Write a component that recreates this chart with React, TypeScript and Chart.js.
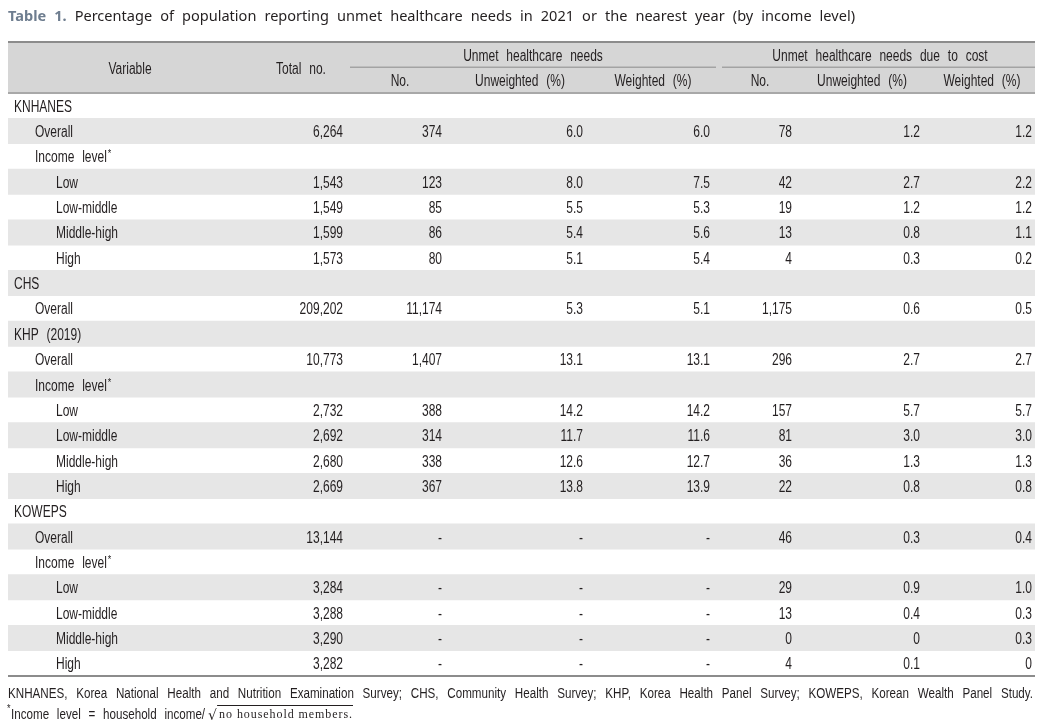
import React, { useEffect, useRef } from "react";
import { Chart, registerables } from "chart.js";

Chart.register(...registerables);

// ---------------- DATA ----------------
const rowLabels = [
  "KNHANES", "Overall", "Income level", "Low", "Low-middle", "Middle-high", "High",
  "CHS", "Overall",
  "KHP (2019)", "Overall", "Income level", "Low", "Low-middle", "Middle-high", "High",
  "KOWEPS", "Overall", "Income level", "Low", "Low-middle", "Middle-high", "High",
];
const rowLevels = [0, 1, 1, 2, 2, 2, 2, 0, 1, 0, 1, 1, 2, 2, 2, 2, 0, 1, 1, 2, 2, 2, 2];
const rowStarred = [false, false, true, false, false, false, false, false, false, false, false, true, false, false, false, false, false, false, true, false, false, false, false];

const totalNo = [null, 6264, null, 1543, 1549, 1599, 1573, null, 209202, null, 10773, null, 2732, 2692, 2680, 2669, null, 13144, null, 3284, 3288, 3290, 3282];
const unmetNo = [null, 374, null, 123, 85, 86, 80, null, 11174, null, 1407, null, 388, 314, 338, 367, null, "-", null, "-", "-", "-", "-"];
const unmetUnweighted = [null, 6.0, null, 8.0, 5.5, 5.4, 5.1, null, 5.3, null, 13.1, null, 14.2, 11.7, 12.6, 13.8, null, "-", null, "-", "-", "-", "-"];
const unmetWeighted = [null, 6.0, null, 7.5, 5.3, 5.6, 5.4, null, 5.1, null, 13.1, null, 14.2, 11.6, 12.7, 13.9, null, "-", null, "-", "-", "-", "-"];
const costNo = [null, 78, null, 42, 19, 13, 4, null, 1175, null, 296, null, 157, 81, 36, 22, null, 46, null, 29, 13, 0, 4];
const costUnweighted = [null, 1.2, null, 2.7, 1.2, 0.8, 0.3, null, 0.6, null, 2.7, null, 5.7, 3.0, 1.3, 0.8, null, 0.3, null, 0.9, 0.4, 0, 0.1];
const costWeighted = [null, 1.2, null, 2.2, 1.2, 1.1, 0.2, null, 0.5, null, 2.7, null, 5.7, 3.0, 1.3, 0.8, null, 0.4, null, 1.0, 0.3, 0.3, 0];

const titleLead = "Table 1.";
const titleText = "Percentage of population reporting unmet healthcare needs in 2021 or the nearest year (by income level)";
const groupHeaders = ["Unmet healthcare needs", "Unmet healthcare needs due to cost"];
const subHeaders = ["No.", "Unweighted (%)", "Weighted (%)"];
const footnote1 = "KNHANES, Korea National Health and Nutrition Examination Survey; CHS, Community Health Survey; KHP, Korea Health Panel Survey; KOWEPS, Korean Wealth Panel Study.";
const footnote2 = "Income level = household income/";
const footnote2Root = "no household members.";

// ---------------- STYLE ----------------
const W = 1043;
const H = 728;
const TL = 8; // table left
const TR = 1035; // table right
const TABLE_W = TR - TL;
const INK = "#231f20";
const BODY_FONT = '16px "Liberation Sans", Arial, sans-serif';
const FOOT_FONT = '15.5px "Liberation Sans", Arial, sans-serif';
const SX = 0.75;
const GAP_EXTRA = 4.5;

type Word = { t: string; font: string; color: string; sx: number };

function wWidth(ctx: CanvasRenderingContext2D, w: Word) {
  ctx.font = w.font;
  return ctx.measureText(w.t).width * w.sx;
}
function drawWord(ctx: CanvasRenderingContext2D, w: Word, x: number, y: number) {
  ctx.save();
  ctx.font = w.font;
  ctx.fillStyle = w.color;
  ctx.textAlign = "left";
  ctx.textBaseline = "alphabetic";
  ctx.translate(x, y);
  ctx.scale(w.sx, 1);
  ctx.fillText(w.t, 0, 0);
  ctx.restore();
}
function drawText(
  ctx: CanvasRenderingContext2D,
  s: string,
  x: number,
  y: number,
  align: "left" | "right" | "center",
  font = BODY_FONT,
  sx = SX,
  color = INK
) {
  const words = s.split(" ").map((t) => ({ t, font, color, sx }));
  ctx.font = font;
  const sp = ctx.measureText(" ").width * sx + GAP_EXTRA;
  const widths = words.map((w) => wWidth(ctx, w));
  const total = widths.reduce((a, b) => a + b, 0) + sp * (words.length - 1);
  let cx = align === "left" ? x : align === "right" ? x - total : x - total / 2;
  words.forEach((w, i) => {
    drawWord(ctx, w, cx, y);
    cx += widths[i] + sp;
  });
  return total;
}
function drawJustified(ctx: CanvasRenderingContext2D, words: Word[], x0: number, x1: number, y: number) {
  const widths = words.map((w) => wWidth(ctx, w));
  const total = widths.reduce((a, b) => a + b, 0);
  const gap = (x1 - x0 - total) / Math.max(1, words.length - 1);
  let cx = x0;
  words.forEach((w, i) => {
    drawWord(ctx, w, cx, y);
    cx += widths[i] + gap;
  });
}
function drawSpacedChars(ctx: CanvasRenderingContext2D, s: string, x0: number, x1: number, y: number, font: string) {
  const chars = s.split("").map((t) => ({ t, font, color: INK, sx: 1 }));
  drawJustified(ctx, chars, x0, x1, y);
}

function fmtCount(v: any) {
  if (v === null || v === undefined) return "";
  if (typeof v === "string") return v;
  return v.toLocaleString("en-US");
}
function fmtPct(v: any) {
  if (v === null || v === undefined) return "";
  if (typeof v === "string") return v;
  return v === 0 ? "0" : v.toFixed(1);
}

// column right edges, in table units (x scale 0..TABLE_W)
const columns = [
  { values: totalNo, fmt: fmtCount, right: 335 },
  { values: unmetNo, fmt: fmtCount, right: 434 },
  { values: unmetUnweighted, fmt: fmtPct, right: 575 },
  { values: unmetWeighted, fmt: fmtPct, right: 702 },
  { values: costNo, fmt: fmtCount, right: 784 },
  { values: costUnweighted, fmt: fmtPct, right: 912 },
  { values: costWeighted, fmt: fmtPct, right: 1024 },
];
const indentByLevel = [6, 27, 48];

const tablePlugin = {
  id: "tablePlugin",
  beforeDraw(chart: any) {
    const ctx: CanvasRenderingContext2D = chart.ctx;
    const xs = chart.scales.x;
    const px = (v: number) => xs.getPixelForValue(v);
    ctx.save();
    ctx.fillStyle = "#ffffff";
    ctx.fillRect(0, 0, W, H);

    // Title
    const titleWords: Word[] = [
      ...titleLead.split(" ").map((t) => ({ t, font: 'bold 15px "Noto Sans", sans-serif', color: "#6e7d8f", sx: 0.97 })),
      ...titleText.split(" ").map((t) => ({ t, font: '15px "Noto Sans", sans-serif', color: INK, sx: 0.97 })),
    ];
    drawJustified(ctx, titleWords, 8, 855, 21);

    // Header background
    ctx.fillStyle = "#d6d6d6";
    ctx.fillRect(px(0), 42, TABLE_W, 51);
    // top rule
    ctx.fillStyle = "#8c8c8c";
    ctx.fillRect(px(0), 41, TABLE_W, 2);
    // group sub-rules
    ctx.fillStyle = "#a3a3a3";
    ctx.fillRect(px(342), 66.5, 366, 1.5);
    ctx.fillRect(px(714), 66.5, TABLE_W - 714, 1.5);
    // header bottom rule
    ctx.fillStyle = "#a8a8a8";
    ctx.fillRect(px(0), 92, TABLE_W, 2);

    drawText(ctx, "Variable", px(122), 74, "center");
    drawText(ctx, "Total no.", px(293), 74, "center");
    drawText(ctx, groupHeaders[0], px(525), 61, "center");
    drawText(ctx, groupHeaders[1], px(872), 61, "center");
    const subCenters = [392, 512, 645, 752, 854, 974];
    subCenters.forEach((c, i) => drawText(ctx, subHeaders[i % 3], px(c), 86, "center"));
    ctx.restore();
  },
  afterDatasetsDraw(chart: any) {
    const ctx: CanvasRenderingContext2D = chart.ctx;
    const xs = chart.scales.x;
    const ys = chart.scales.y;
    const px = (v: number) => xs.getPixelForValue(v);
    ctx.save();
    rowLabels.forEach((lab, i) => {
      const cy = ys.getPixelForValue(i);
      const base = cy + 6;
      const w = drawText(ctx, lab, px(indentByLevel[rowLevels[i]]), base, "left");
      if (rowStarred[i]) {
        drawText(ctx, "*", px(indentByLevel[rowLevels[i]]) + w + 1, base - 5, "left", '10px "Liberation Sans", Arial, sans-serif', 0.9);
      }
      columns.forEach((col) => {
        const s = col.fmt(col.values[i]);
        if (s) drawText(ctx, s, px(col.right), base, "right");
      });
    });
    // bottom rule
    const area = chart.chartArea;
    ctx.fillStyle = "#8c8c8c";
    ctx.fillRect(px(0), area.bottom - 1, TABLE_W, 2);

    // Footnotes
    const fn1: Word[] = footnote1.split(" ").map((t) => ({ t, font: FOOT_FONT, color: INK, sx: SX }));
    drawJustified(ctx, fn1, 8, 1033, 698);
    const y2 = 719;
    drawText(ctx, "*", 7, y2 - 7, "left", '10px "Liberation Sans", Arial, sans-serif', 0.9);
    const w2 = drawText(ctx, footnote2, 11, y2, "left", FOOT_FONT, SX);
    const rx = 11 + w2 + 3;
    drawText(ctx, "\u221A", rx, y2 + 1, "left", '14px "DejaVu Sans", sans-serif', 1);
    drawSpacedChars(ctx, footnote2Root, rx + 11, 352, y2 - 1, '12px "Liberation Serif", serif');
    ctx.fillStyle = INK;
    ctx.fillRect(rx + 9, 705, 353 - (rx + 9), 1);
    ctx.restore();
  },
};

export default function App() {
  const ref = useRef<HTMLCanvasElement | null>(null);
  useEffect(() => {
    if (!ref.current) return;
    const stripes = rowLabels.map((_, i) => (i % 2 === 1 ? [0, TABLE_W] : null));
    const chart = new Chart(ref.current, {
      type: "bar",
      data: {
        labels: rowLabels,
        datasets: [
          {
            data: stripes as any,
            backgroundColor: "#e6e6e6",
            borderWidth: 0,
            barPercentage: 1,
            categoryPercentage: 1,
          },
        ],
      },
      options: {
        indexAxis: "y",
        responsive: false,
        animation: false,
        devicePixelRatio: 1,
        layout: { padding: { left: TL, right: W - TR, top: 93, bottom: H - 676 } },
        scales: {
          x: { type: "linear", min: 0, max: TABLE_W, display: false, grid: { display: false } },
          y: { type: "category", display: false, offset: true, grid: { display: false } },
        },
        plugins: { legend: { display: false }, tooltip: { enabled: false }, title: { display: false } },
        events: [],
      },
      plugins: [tablePlugin],
    });
    return () => chart.destroy();
  }, []);
  return (
    <div style={{ position: "fixed", left: 0, top: 0, width: W, height: H, overflow: "hidden", background: "#fff" }}>
      <canvas ref={ref} width={W} height={H} style={{ display: "block", width: W, height: H }} />
    </div>
  );
}
